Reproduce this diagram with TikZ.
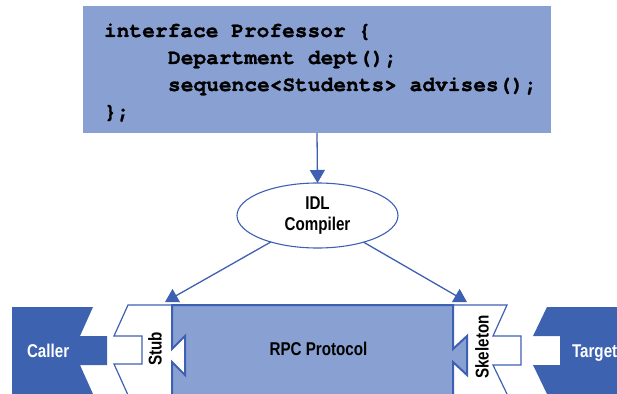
\documentclass[tikz,border=0pt]{standalone}
\usepackage{fontspec}
\setmainfont{Liberation Sans}
\newfontfamily\labelfont{Liberation Sans}[FakeStretch=0.82]
\newfontfamily\codefont{texgyrecursor-bold.otf}[FakeBold=1.2]
\usetikzlibrary{arrows.meta,shapes.geometric}

\definecolor{paleblue}{RGB}{137,160,210}
\definecolor{deepblue}{RGB}{60,98,176}
\definecolor{edgeblue}{RGB}{62,96,178}

\begin{document}
\begin{tikzpicture}[x=1pt,y=-1pt,
  every node/.style={inner sep=0pt,outer sep=0pt},
  codeline/.style={anchor=base west,font=\codefont\fontsize{21.2}{27}\selectfont},
  tag/.style={font=\labelfont\bfseries\fontsize{18.5}{21}\selectfont},
  conn/.style={draw=edgeblue,line width=1.3pt,
    -{Triangle[width=15pt,length=13pt]}},
  piece/.style={draw=edgeblue,line width=1.2pt,line join=miter},
]
\useasboundingbox (0,0) rectangle (617,393);
\clip (0,0) rectangle (617,393);

% interface definition
\node[fill=paleblue,minimum width=468pt,minimum height=127pt] (iface) at (317,69.5) {};
\node[codeline] (code1) at (104,37) {interface Professor \{};
\node[codeline] (code2) at (168,64) {Department dept();};
\node[codeline] (code3) at (168,91) {sequence<Students> advises();};
\node[codeline] (code4) at (104,118) {\};};

% compiler
\node[ellipse,draw=edgeblue,line width=1.1pt,minimum width=161pt,minimum height=65pt,
  tag,align=center] (idl) at (317.5,215.5) {IDL\\Compiler};

\draw[conn] (iface.south) -- (idl.north);
\coordinate (tipL) at (165,302);
\coordinate (tipR) at (467,302);
\draw[conn] (idl) -- (tipL);
\draw[conn] (idl) -- (tipR);

% caller and target
\fill[deepblue] (12,307) -- (93,307) -- (80,336) -- (107,336) -- (107,365)
  -- (80,365) -- (93,394) -- (12,394) -- cycle;
\fill[deepblue] (630,307) -- (547,307) -- (533,336) -- (560,336) -- (560,365)
  -- (533,365) -- (547,394) -- (630,394) -- cycle;
\node[tag,text=white,anchor=base west] (caller) at (27,357) {Caller};
\node[tag,text=white,anchor=base west] (target) at (572,357) {Target};

% stub and skeleton outlines
\draw[piece] (172,305) -- (128,305) -- (114,336) -- (142,336) -- (142,364)
  -- (114,364) -- (128,395);
\draw[piece] (453,305) -- (507,305) -- (493,336) -- (521,336) -- (521,365)
  -- (493,365) -- (507,394);

% protocol block with its dovetails
\filldraw[fill=paleblue,draw=edgeblue,line width=2pt,line join=miter]
  (172,305) -- (453,305) -- (453,349) -- (467,336) -- (467,375) -- (453,362)
  -- (453,400) -- (172,400) -- (172,362) -- (185,375) -- (185,336)
  -- (172,349) -- cycle;

\node[tag,anchor=base] (rpc) at (318.5,355.5) {RPC Protocol};
\node[tag,rotate=90] (stub) at (155,349) {Stub};
\node[tag,rotate=90] (skel) at (482,347) {Skeleton};
\end{tikzpicture}
\end{document}
